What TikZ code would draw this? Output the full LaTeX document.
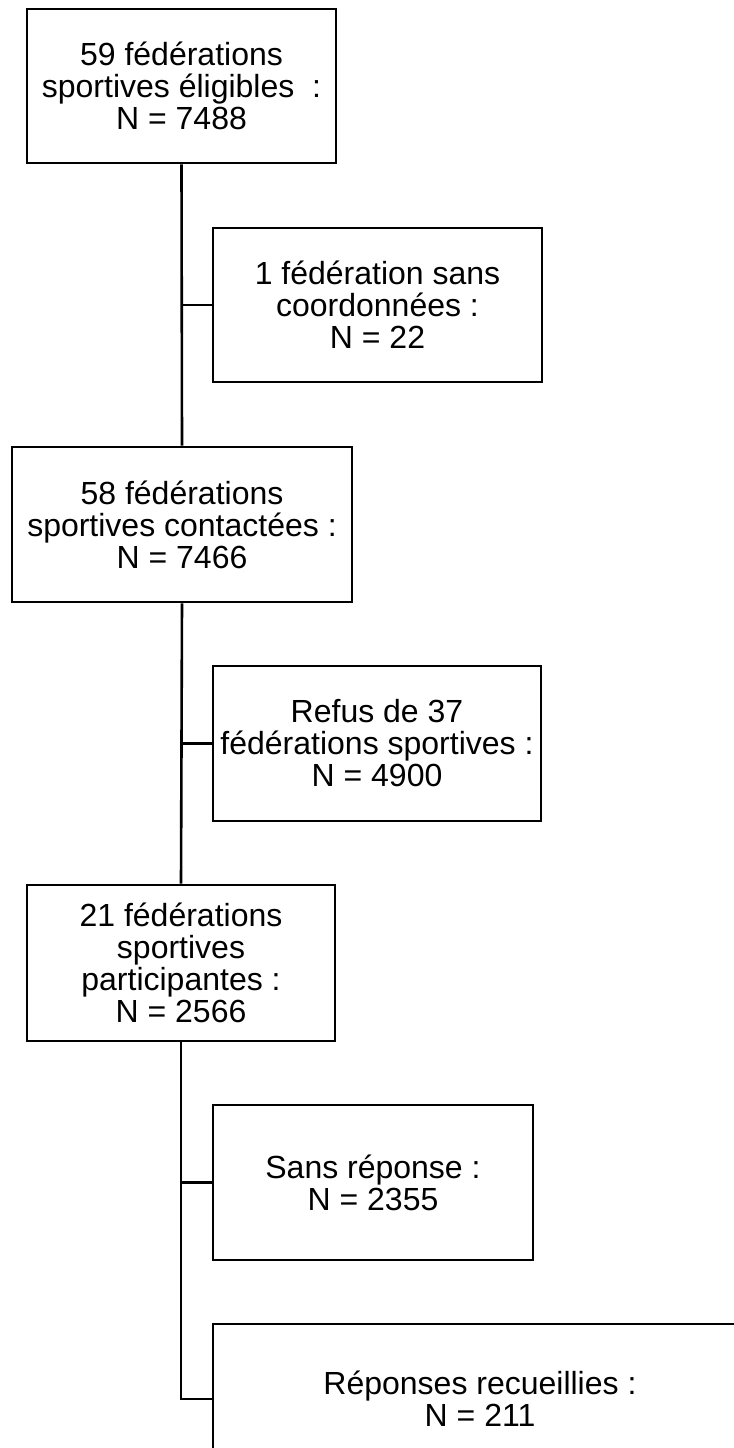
\documentclass[tikz,border=0pt]{standalone}
\usepackage{fontspec}
\setmainfont{Liberation Sans}

\begin{document}
\begin{tikzpicture}[x=0.5pt, y=-0.5pt, line width=1.3pt,
  box/.style={draw=black, rectangle, inner sep=0pt, align=center,
    font=\fontsize{16pt}{16pt}\selectfont}]
\clip (0,0) rectangle (734,1448);

%\draw[step=50,gray,very thin] (0,0) grid (734,1448);

\node[box, minimum width=154.5pt, minimum height=77pt] (eligibles) at (181.5, 86) {59 fédérations\\sportives éligibles~ :\\N = 7488};
\node[box, minimum width=164.5pt, minimum height=77pt] (sanscoord) at (377.5, 305) {1 fédération sans\\coordonnées :\\N = 22};
\node[box, minimum width=170pt, minimum height=77.5pt] (contactees) at (182, 524.5) {58 fédérations\\sportives contactées :\\N = 7466};
\node[box, minimum width=164pt, minimum height=77.5pt] (refus) at (377, 743.5) {Refus de 37\\fédérations sportives :\\N = 4900};
\node[box, minimum width=154pt, minimum height=78pt] (participantes) at (181, 963) {21 fédérations\\sportives\\participantes :\\N = 2566};
\node[box, minimum width=160pt, minimum height=77.5pt] (sansrep) at (373, 1182.5) {Sans réponse :\\N = 2355};
\node[box, minimum width=267pt, minimum height=75pt] (recueillies) at (480, 1399) {Réponses recueillies :\\N = 211};

\coordinate (j1) at (eligibles.south |- sanscoord.west);
\coordinate (j2) at (contactees.south |- refus.west);
\coordinate (j3) at (participantes.south |- sansrep.west);
\coordinate (j4) at (participantes.south |- recueillies.west);

\draw (eligibles.south) -- (contactees.north);
\draw (j1) -- (sanscoord.west);
\draw (contactees.south) -- (participantes.north);
\draw (j2) -- (refus.west);
\draw (participantes.south) -- (j4) -- (recueillies.west);
\draw (j3) -- (sansrep.west);

\end{tikzpicture}
\end{document}
